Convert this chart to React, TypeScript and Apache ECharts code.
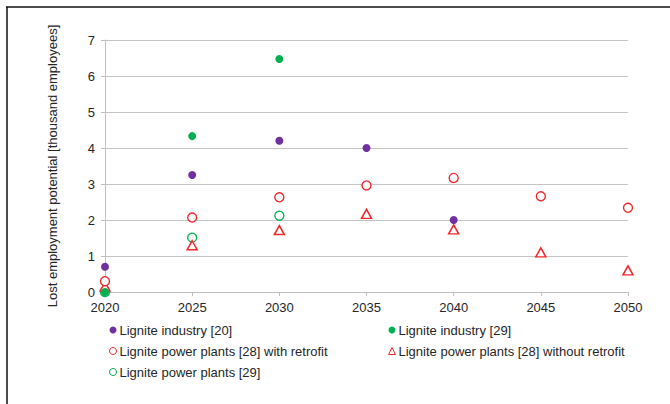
import React, { useEffect, useRef } from "react";
import * as echarts from "echarts";

// Years on the horizontal axis
const years = [2020, 2025, 2030, 2035, 2040, 2045, 2050];

// Lost employment potential, thousand employees
const industry20 = [0.7, 3.25, 4.2, 4.0, 2.0, null, null];
const industry29 = [0, 4.33, 6.47, null, null, null, null];
const plantsWithRetrofit = [0.3, 2.07, 2.63, 2.96, 3.17, 2.66, 2.34];
const plantsWithoutRetrofit = [0.15, 1.3, 1.72, 2.17, 1.74, 1.1, 0.6];
const plants29 = [0, 1.51, 2.12, null, null, null, null];

const names = [
  "Lignite industry [20]",
  "Lignite industry [29]",
  "Lignite power plants [28] with retrofit",
  "Lignite power plants [28] without retrofit",
  "Lignite power plants [29]",
];

const PURPLE = "#7030A0";
const GREEN = "#00B050";
const RED = "#F0282C";
const TEXT = "#262626";
const FONT = "Liberation Sans, Arial, sans-serif";

function pairs(values: (number | null)[]) {
  return years
    .map((y, i) => [y, values[i]])
    .filter((p) => p[1] !== null);
}

// thin outline for the hollow legend markers
const thin = (name: string) => ({ name, itemStyle: { borderWidth: 1 } });

export default function App() {
  const ref = useRef<HTMLDivElement>(null);

  useEffect(() => {
    if (!ref.current) return;
    const chart = echarts.init(ref.current, null, { renderer: "svg" });

    const legendText = {
      color: TEXT,
      fontSize: 13,
      fontFamily: FONT,
      lineHeight: 14,
      padding: [0, 0, 0, -2],
    };

    chart.setOption({
      animation: false,
      backgroundColor: "#ffffff",
      grid: { left: 105, right: 42, top: 40, bottom: 112, containLabel: false },
      xAxis: {
        type: "value",
        min: 2020,
        max: 2050,
        interval: 5,
        axisLine: { show: true, lineStyle: { color: "#BFBFBF", width: 1 } },
        axisTick: { show: true, length: 4, lineStyle: { color: "#BFBFBF" } },
        splitLine: { show: false },
        axisLabel: {
          color: TEXT,
          fontSize: 13,
          fontFamily: FONT,
          margin: 9,
          formatter: (v: number) => String(v),
        },
      },
      yAxis: {
        type: "value",
        min: 0,
        max: 7,
        interval: 1,
        name: "Lost employment potential [thousand employees]",
        nameLocation: "middle",
        nameGap: 46,
        nameTextStyle: { color: TEXT, fontSize: 13, fontFamily: FONT },
        axisLine: { show: true, lineStyle: { color: "#BFBFBF", width: 1 } },
        axisTick: { show: true, length: 4, lineStyle: { color: "#BFBFBF" } },
        splitLine: { show: true, lineStyle: { color: "#C4C4C4", width: 1 } },
        axisLabel: { color: TEXT, fontSize: 13, fontFamily: FONT, margin: 10 },
      },
      legend: [
        {
          orient: "vertical",
          left: 109,
          top: 323,
          padding: 0,
          itemWidth: 7,
          itemHeight: 7,
          itemGap: 7,
          textStyle: legendText,
          data: [names[0], thin(names[2]), thin(names[4])],
        },
        {
          orient: "vertical",
          left: 388,
          top: 323,
          padding: 0,
          itemWidth: 7,
          itemHeight: 7,
          itemGap: 7,
          textStyle: legendText,
          data: [names[1], thin(names[3])],
        },
      ],
      graphic: [
        {
          type: "line",
          shape: { x1: 6, y1: 7, x2: 670, y2: 7 },
          style: { stroke: "#111", lineWidth: 1.5 },
          silent: true,
        },
        {
          type: "line",
          shape: { x1: 7, y1: 7, x2: 7, y2: 404 },
          style: { stroke: "#111", lineWidth: 1.5 },
          silent: true,
        },
      ],
      series: [
        {
          name: names[4],
          type: "scatter",
          symbol: "circle",
          symbolSize: 9,
          itemStyle: { color: "#ffffff", borderColor: GREEN, borderWidth: 1.3, opacity: 1 },
          data: pairs(plants29),
          z: 2,
        },
        {
          name: names[3],
          type: "scatter",
          symbol: "triangle",
          symbolSize: [10, 9],
          itemStyle: { color: "#ffffff", borderColor: RED, borderWidth: 1.5, opacity: 1 },
          data: pairs(plantsWithoutRetrofit),
          z: 2,
        },
        {
          name: names[2],
          type: "scatter",
          symbol: "circle",
          symbolSize: 9,
          itemStyle: { color: "#ffffff", borderColor: RED, borderWidth: 1.4, opacity: 1 },
          data: pairs(plantsWithRetrofit),
          z: 2,
        },
        {
          name: names[0],
          type: "scatter",
          symbol: "circle",
          symbolSize: 8,
          itemStyle: { color: PURPLE, opacity: 1 },
          data: pairs(industry20),
          z: 3,
        },
        {
          name: names[1],
          type: "scatter",
          symbol: "circle",
          symbolSize: 8,
          itemStyle: { color: GREEN, opacity: 1 },
          data: pairs(industry29),
          z: 4,
        },
      ],
    });

    return () => chart.dispose();
  }, []);

  return (
    <div
      ref={ref}
      style={{ position: "absolute", left: 0, top: 0, width: 670, height: 404 }}
    />
  );
}
